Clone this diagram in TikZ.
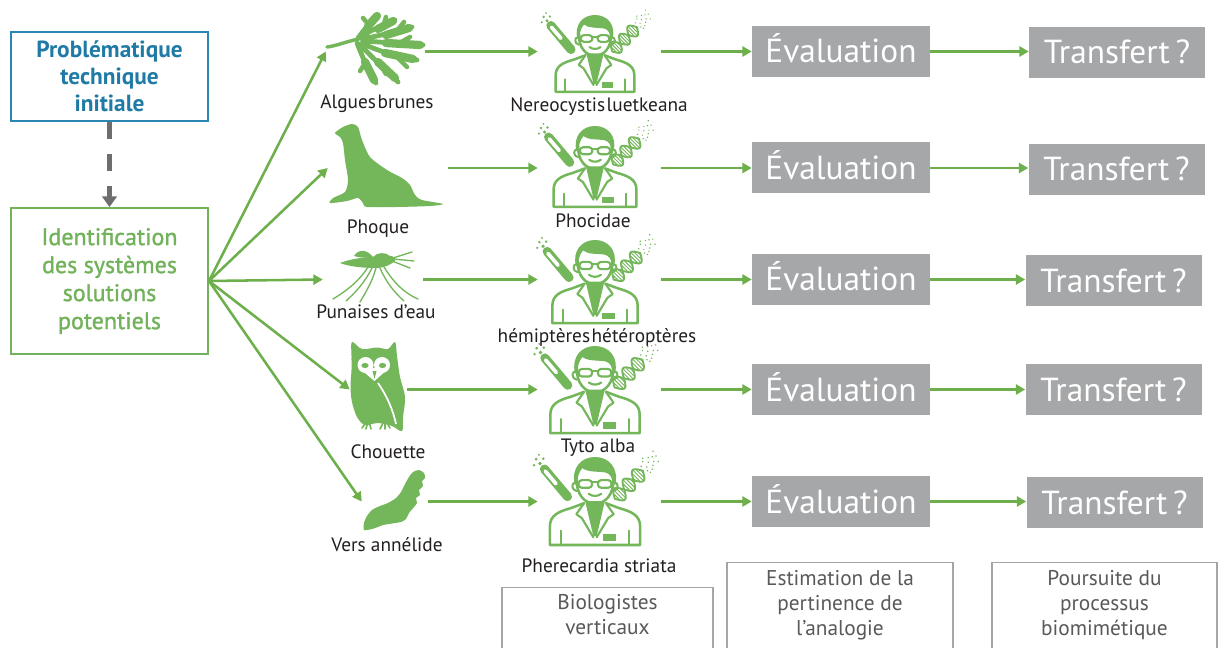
\documentclass[tikz,border=0pt]{standalone}
\usepackage{fontspec}
\setmainfont{PT Sans}
\usetikzlibrary{arrows.meta}

\definecolor{leaf}{HTML}{6DB04B}
\definecolor{sage}{HTML}{74B65A}
\definecolor{boxgreen}{HTML}{72B25A}
\definecolor{probblue}{HTML}{2A87B2}
\definecolor{probtext}{HTML}{1F7BA5}
\definecolor{evalgray}{HTML}{A6A7A9}
\definecolor{framegray}{HTML}{A5A5A5}
\definecolor{notegray}{HTML}{59595B}
\definecolor{ink}{HTML}{231F20}
\definecolor{dashgray}{HTML}{6D6E70}

\newcommand\probfont{\fontsize{17.5pt}{20.25pt}\selectfont\bfseries}
\newcommand\identfont{\fontsize{18pt}{21pt}\selectfont\addfontfeature{FakeBold=1.2}}
\newcommand\tagfont{\fontsize{14.5pt}{17pt}\selectfont}
\newcommand\bigfont{\fontsize{25pt}{30pt}\selectfont}
\newcommand\notefont{\fontsize{16pt}{18.75pt}\selectfont}
\newcommand\narrowsp[1]{{\spaceskip=0.08em\relax #1}}
\newcommand\thinsp[1]{{\spaceskip=0.17em\relax #1}}

\tikzset{
  garrow/.style={draw=leaf, line width=1.9pt, -{Triangle[length=7pt,width=7.5pt]}},
  dasharrow/.style={draw=dashgray, line width=3.75pt, dash pattern=on 12.75pt off 11.25pt,
    -{Triangle[length=8pt,width=11pt]}},
  probbox/.style={draw=probblue, line width=1.5pt, minimum width=147.75pt, minimum height=66.75pt,
    text=probtext, font=\probfont, align=center, inner sep=0pt},
  identbox/.style={draw=boxgreen, line width=1.5pt, minimum width=147.75pt, minimum height=109.5pt,
    text=boxgreen, font=\identfont, align=center, inner sep=0pt},
  evalbox/.style={fill=evalgray, minimum width=133.5pt, minimum height=38.25pt, text=white,
    font=\bigfont, text height=17.25pt, text depth=0pt, inner sep=0pt},
  transbox/.style={evalbox, minimum width=132pt},
  notebox/.style={draw=framegray, line width=1.1pt, minimum height=84.75pt, anchor=north, inner sep=0pt},
  notetext/.style={text=notegray, font=\notefont, align=center, inner sep=0pt},
  tag/.style={text=ink, font=\tagfont, anchor=base, inner sep=0pt},
  anchorline/.style={inner sep=0pt, minimum height=0pt},
  scientist/.pic={
    \begin{scope}[sage, line width=1.9pt, line join=round, line cap=round]
      \begin{scope}[xscale=1.15]
        % hair
        \fill (-16,3) .. controls (-19,-12) and (-11,-22) .. (0,-22)
          .. controls (11,-22) and (19,-12) .. (16,3) -- (14,3)
          .. controls (14,-3) and (12,-7) .. (8,-8)
          .. controls (2,-9) and (-6,-8) .. (-10,-12)
          .. controls (-13,-8) and (-14,-3) .. (-14,3) -- cycle;
        % face and ears
        \draw (-14.5,-2) .. controls (-15,12) and (-8,20.5) .. (0,20.5)
          .. controls (8,20.5) and (15,12) .. (14.5,-2);
        \draw[line width=1.5pt] (-15,1) .. controls (-19,1) and (-19,8) .. (-14.5,9);
        \draw[line width=1.5pt] (15,1) .. controls (19,1) and (19,8) .. (14.5,9);
        % glasses and smile
        \draw[line width=1.6pt, rounded corners=2.5] (-13,-1) rectangle (-2.3,6) (2.3,-1) rectangle (13,6);
        \draw[line width=1.6pt] (-2.3,1) -- (2.3,1);
        \draw[line width=1.6pt] (-5,11.5) .. controls (-2,14) and (2,14) .. (5,11.5);
      \end{scope}
      % lab coat
      \draw (-10,20) -- (-22,24.5) .. controls (-33,27.5) and (-41,31) .. (-41,41) -- (-41,58)
        -- (41,58) -- (41,41) .. controls (41,31) and (33,27.5) .. (22,24.5) -- (10,20);
      \fill (-9,18) -- (9,18) -- (1.5,50) -- (-1.5,50) -- cycle;
      \draw[line width=1.6pt] (-10,20) -- (-17,30) -- (-12,33.5) -- (-1.5,51);
      \draw[line width=1.6pt] (10,20) -- (17,30) -- (12,33.5) -- (1.5,51);
      \draw[line width=1.6pt] (-31,45) -- (-31,58) (31,45) -- (31,58);
      \fill (7,48) rectangle (19,54);
      % test tube with bubbles
      \draw[line width=6.8pt] (-46,-11) -- (-25,14);
      \draw[white, line width=2.8pt] (-45.3,-9.2) -- (-35.5,2.3);
      \fill (-50,-16) circle (1.7) (-53.5,-20) circle (1.4) (-47,-20.5) circle (1.3)
        (-55.5,-14.5) circle (1.2) (-51,-24) circle (1);
      % DNA helix fading into dots
      \begin{scope}[shift={(18,16)}, rotate=45]
        \draw[line width=1.4pt] plot[domain=0:36, samples=44, smooth] (\x,{7*sin(\x*15)});
        \draw[line width=1.4pt] plot[domain=0:36, samples=44, smooth] (\x,{-7*sin(\x*15)});
        \foreach \r in {2.5,5,...,35} \draw[line width=0.7pt] (\r,{7*sin(\r*15)}) -- (\r,{-7*sin(\r*15)});
        \foreach \p/\q in {38/-4,39/3,40/6,41/0,42/-6,43/5,44/-8,45/-2,46/3,48/-5,49/1,51/-3,52/4,54/-1,55/-6}
          \fill (\p,\q) circle (0.8);
      \end{scope}
    \end{scope}
  }
}

\begin{document}
\begin{tikzpicture}[x=0.75pt, y=-0.75pt]
\useasboundingbox (0,0) rectangle (1219,648);
\clip (0,0) rectangle (1219,648);
\fill[white] (0,0) rectangle (1219,648);

% left column
\node[probbox] (prob) at (109.5,76.5) {Problématique\\technique\\initiale};
\node[identbox] (ident) at (109.5,281) {Identification\\des systèmes\\solutions\\potentiels};
\draw[dasharrow] (prob.south) -- (ident.north);

% ---------- icons ----------
% brown algae: stem and lobed fronds
\begin{scope}[sage, line cap=round, line join=round]
  \draw[line width=2.6pt] (327,47) .. controls (336,46) and (348,41) .. (359,39);
  \draw[line width=3.6pt]
    (358,38) .. controls (364,30) and (370,22) .. (378,15)
    (360,37) .. controls (372,30) and (382,25) .. (395,20)
    (362,39) .. controls (378,36) and (395,32) .. (412,27)
    (363,41) .. controls (382,42) and (402,44) .. (423,45)
    (362,43) .. controls (375,50) and (395,56) .. (417,60)
    (360,44) .. controls (370,56) and (384,68) .. (398,82)
    (357,43) .. controls (362,56) and (368,70) .. (376,83);
  \draw[line width=6.2pt]
    (368,26) -- (377,16) (378,29) -- (393,21) (386,35) -- (409,28)
    (386,43) -- (420,45) (385,53) -- (413,59) (378,62) -- (395,78) (365,62) -- (374,80);
  \draw[line width=3.4pt]
    (369,25) -- (363,18) (383,27) -- (386,17) (396,32) -- (404,22)
    (398,44) -- (410,37) (396,56) -- (407,67) (380,64) -- (386,74) (366,62) -- (360,71);
\end{scope}

% seal
\fill[sage] plot[smooth cycle, tension=0.45] coordinates {(335,133) (343,127) (352,124) (358,127)
  (362,140) (370,157) (387,170) (402,178) (410,185) (415,195) (422,200) (443,204) (430,206)
  (397,207) (367,207) (363,203) (358,198) (347,201) (330,203) (333,198) (345,192) (348,180)
  (345,160) (343,143) (340,137)};

% water bug
\begin{scope}[sage]
  \fill (340,263) .. controls (350,259) and (365,257) .. (373,257)
    .. controls (377,252) and (386,252) .. (390,256)
    .. controls (394,256) and (396,258) .. (395,261)
    .. controls (390,265) and (384,268) .. (376,268)
    .. controls (366,268) and (350,267) .. (340,263) -- cycle;
  \fill (373,257) .. controls (367,249) and (358,249) .. (354,256)
    .. controls (360,258) and (367,258) .. (373,257) -- cycle;
  \draw[line width=1pt, line cap=round]
    (368,267) .. controls (360,280) and (348,290) .. (333,299)
    (372,268) .. controls (365,282) and (356,292) .. (346,301)
    (376,268) .. controls (372,282) and (366,292) .. (360,302)
    (384,267) .. controls (392,280) and (402,292) .. (418,299)
    (380,268) .. controls (386,282) and (394,292) .. (404,301)
    (393,258) -- (412,252) (393,259) -- (414,261) (392,261) -- (410,268);
\end{scope}

% owl
\fill[sage] plot[smooth cycle, tension=0.55] coordinates {(352,342) (362,349) (377,347.5) (388,349)
  (395,342) (397,356) (400,377) (405,397) (403,417) (402,431) (392,426) (378,423) (365,425)
  (357,417) (352,402) (350.5,387) (351.5,370) (351.5,356)};
\fill[white] (365.5,365) circle (8) (382,365) circle (8);
\fill[white] (359,368) -- (389,368) -- (374.5,381) -- cycle;
\fill[sage] (365,365.5) ellipse [x radius=3.6, y radius=2.6] (382.5,365.5) ellipse [x radius=3.6, y radius=2.6];
\fill[sage] (372.5,371) -- (376.5,371) -- (374.5,379) -- cycle;
\draw[white, line width=1.3pt] (378,383) .. controls (387,396) and (393,410) .. (396,424);
\draw[sage, line width=1.2pt, line cap=round] (367,421) -- (362,428) (368,421) -- (366,429)
  (369,421) -- (371,429) (384,421) -- (380,429) (385,421) -- (385,429) (386,421) -- (390,428);

% caterpillar with segmented back
\fill[sage] plot[smooth cycle, tension=0.4] coordinates {(364,530) (372,529) (378,527) (383,525)
  (389,524) (395,523) (401,522) (406,519) (409,513) (414,507) (417,503) (416,498) (420,495)
  (419,490) (423,486) (422,481) (425,478) (424,473) (419,470) (413,472) (409,477) (405,484)
  (401,492) (396,498) (388,503) (380,506) (372,510) (367,516) (364,523)};

% scientists
\pic[scale=0.96] at (595,36.1) {scientist};
\pic[scale=1.01] at (595,148.2) {scientist};
\pic[scale=1.04] at (595,262.9) {scientist};
\pic[scale=1.09] at (595,370) {scientist};
\pic[scale=1.10] at (595,481.2) {scientist};

% anchors spanning each icon
\node[anchorline, minimum width=74.25pt] (alg) at (375.5,51.5) {};
\node[anchorline, minimum width=90pt] (seal) at (388,168) {};
\node[anchorline, minimum width=75pt] (bug) at (373,279.5) {};
\node[anchorline, minimum width=42.75pt] (owl) at (378.5,389.5) {};
\node[anchorline, minimum width=49.5pt] (worm) at (395,501.5) {};
\foreach \i/\y in {1/51.5,2/168,3/279.5,4/389.5,5/501.5}
  \node[anchorline, minimum width=92.25pt] (sci\i) at (599.5,\y) {};

% labels
\node[tag] (tagA) at (377,109) {\narrowsp{Algues brunes}};
\node[tag] (tagB) at (378,234) {Phoque};
\node[tag] (tagC) at (376,318) {Punaises d'eau};
\node[tag] (tagD) at (388,458) {Chouette};
\node[tag] (tagE) at (387,551) {Vers annélide};
\node[tag] (latA) at (599,112) {\narrowsp{Nereocystis luetkeana}};
\node[tag] (latB) at (593,228) {Phocidae};
\node[tag] (latC) at (597,342) {\narrowsp{hémiptères hétéroptères}};
\node[tag] (latD) at (598,452) {Tyto alba};
\node[tag] (latE) at (599,572) {Pherecardia striata};

% evaluation and transfer boxes
\node[evalbox] (ev1) at (841,51.5) {Évaluation};
\node[evalbox] (ev2) at (841,168) {Évaluation};
\node[evalbox] (ev3) at (841,279.5) {Évaluation};
\node[evalbox] (ev4) at (841,389.5) {Évaluation};
\node[evalbox] (ev5) at (841,501.5) {Évaluation};
\node[transbox] (tr1) at (1117,52.5) {\thinsp{Transfert ?}};
\node[transbox] (tr2) at (1116.5,169.5) {\thinsp{Transfert ?}};
\node[transbox] (tr3) at (1113.5,280.5) {\thinsp{Transfert ?}};
\node[transbox] (tr4) at (1113.5,389.5) {\thinsp{Transfert ?}};
\node[transbox] (tr5) at (1114.5,502.5) {\thinsp{Transfert ?}};

% connectors
\draw[garrow] (ident.east) -- (alg.west);
\draw[garrow] (ident.east) -- (seal.west);
\draw[garrow] (ident.east) -- (bug.west);
\draw[garrow] (ident.east) -- (owl.west);
\draw[garrow] (ident.east) -- (worm.west);
\draw[garrow] (alg.east) -- (sci1.west);
\draw[garrow] (seal.east) -- (sci2.west);
\draw[garrow] (bug.east) -- (sci3.west);
\draw[garrow] (owl.east) -- (sci4.west);
\draw[garrow] (worm.east) -- (sci5.west);
\foreach \i in {1,...,5} {
  \draw[garrow] (sci\i.east) -- (ev\i.west);
  \draw[garrow] (ev\i.east) -- (ev\i.east -| tr\i.west);
}

% bottom captions
\node[notebox, minimum width=158.25pt] (bio) at (607.5,587) {};
\node[notebox, minimum width=169.5pt] (est) at (840,562) {};
\node[notebox, minimum width=168.75pt] (pour) at (1104.5,562) {};
\node[notetext] (bioT) at (607.5,614.5) {Biologistes\\verticaux};
\node[notetext] (estT) at (840,605) {Estimation de la\\pertinence de\\l’analogie};
\node[notetext] (pourT) at (1104.5,605) {Poursuite du\\processus\\biomimétique};
\end{tikzpicture}
\end{document}
